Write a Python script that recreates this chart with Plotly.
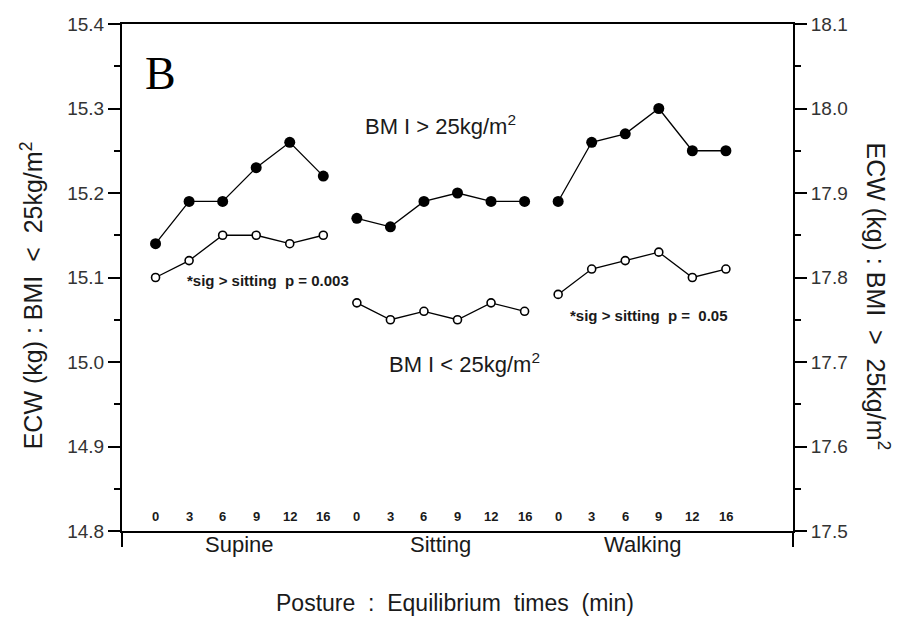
import plotly.graph_objects as go

# ---- data ----
postures = ["Supine", "Sitting", "Walking"]
times = ["0", "3", "6", "9", "12", "16"]

over25_supine = [17.84, 17.89, 17.89, 17.93, 17.96, 17.92]
over25_sitting = [17.87, 17.86, 17.89, 17.90, 17.89, 17.89]
over25_walking = [17.89, 17.96, 17.97, 18.00, 17.95, 17.95]

under25_supine = [15.10, 15.12, 15.15, 15.15, 15.14, 15.15]
under25_sitting = [15.07, 15.05, 15.06, 15.05, 15.07, 15.06]
under25_walking = [15.08, 15.11, 15.12, 15.13, 15.10, 15.11]

over25 = [over25_supine, over25_sitting, over25_walking]
under25 = [under25_supine, under25_sitting, under25_walking]

FONT = "Liberation Sans, Arial, sans-serif"
INK = "#1a1a1a"
SP = "&nbsp;"

# x positions: each posture group of 6 times, consecutive slots
def group_x(g):
    return [g * len(times) + i + 1 for i in range(len(times))]

def joined(series):
    xs, ys = [], []
    for g, vals in enumerate(series):
        if g:
            xs.append(None)
            ys.append(None)
        xs += group_x(g)
        ys += vals
    return xs, ys

fig = go.Figure()

xo, yo = joined(over25)
fig.add_trace(go.Scatter(
    x=xo, y=yo, yaxis="y2", mode="lines+markers", connectgaps=False,
    name="BMI > 25kg/m²",
    line=dict(color="black", width=1.3),
    marker=dict(symbol="circle", size=11, color="black"),
))

xu, yu = joined(under25)
fig.add_trace(go.Scatter(
    x=xu, y=yu, yaxis="y", mode="lines+markers", connectgaps=False,
    name="BMI < 25kg/m²",
    line=dict(color="black", width=1.3),
    marker=dict(symbol="circle", size=8, color="white",
                line=dict(color="black", width=1.6)),
))

n_total = len(postures) * len(times)
x_range = [0, n_total + 2]

annotations = []
# time labels inside the plot, above the x axis
for g in range(len(postures)):
    for xv, t in zip(group_x(g), times):
        annotations.append(dict(
            x=xv, y=0.028, xref="x", yref="paper", text=t, showarrow=False,
            font=dict(family=FONT, size=13, color=INK, weight="bold"),
            xanchor="center", yanchor="middle"))
    xs = group_x(g)
    annotations.append(dict(
        x=sum(xs) / len(xs), y=-0.026, xref="x", yref="paper", text=postures[g],
        showarrow=False, font=dict(family=FONT, size=22, color=INK),
        xanchor="center", yanchor="middle"))

annotations += [
    dict(x=0.058, y=0.903, xref="paper", yref="paper", text="B", showarrow=False,
         font=dict(family="Liberation Serif, Times New Roman, serif", size=46, color="black"),
         xanchor="center", yanchor="middle"),
    dict(x=0.475, y=0.80, xref="paper", yref="paper",
         text="BM I > 25kg/m<sup>2</sup>", showarrow=False,
         font=dict(family=FONT, size=22, color=INK), xanchor="center", yanchor="middle"),
    dict(x=0.511, y=0.331, xref="paper", yref="paper",
         text="BM I < 25kg/m<sup>2</sup>", showarrow=False,
         font=dict(family=FONT, size=22, color=INK), xanchor="center", yanchor="middle"),
    dict(x=0.094, y=0.495, xref="paper", yref="paper",
         text=f"*sig{SP}>{SP}sitting{SP}{SP}p{SP}={SP}0.003", showarrow=False,
         font=dict(family=FONT, size=15, color=INK, weight="bold"),
         xanchor="left", yanchor="middle"),
    dict(x=0.665, y=0.426, xref="paper", yref="paper",
         text=f"*sig{SP}>{SP}sitting{SP}{SP}p{SP}={SP}{SP}0.05", showarrow=False,
         font=dict(family=FONT, size=15, color=INK, weight="bold"),
         xanchor="left", yanchor="middle"),
    dict(x=-0.134, y=0.465, xref="paper", yref="paper",
         text=f"ECW{SP}(kg){SP}:{SP}BMI{SP}{SP}<{SP}{SP}25kg/m<sup>2</sup>", showarrow=False,
         textangle=-90,
         font=dict(family=FONT, size=25, color=INK), xanchor="center", yanchor="middle"),
    dict(x=1.127, y=0.462, xref="paper", yref="paper",
         text=f"ECW{SP}(kg){SP}:{SP}BMI{SP}{SP}>{SP}{SP}25kg/m<sup>2</sup>", showarrow=False,
         textangle=90,
         font=dict(family=FONT, size=25, color=INK), xanchor="center", yanchor="middle"),
    dict(x=0.496, y=-0.142, xref="paper", yref="paper",
         text=f"Posture{SP} :{SP} Equilibrium{SP} times{SP} (min)", showarrow=False,
         font=dict(family=FONT, size=23, color=INK), xanchor="center", yanchor="middle"),
]

# page body has an 8px margin; size the figure so the plot lands where the reference has it
fig.update_layout(
    width=903, height=611,
    margin=dict(l=114, r=118, t=16, b=88, autoexpand=False),
    paper_bgcolor="white", plot_bgcolor="white",
    showlegend=False,
    font=dict(family=FONT, color=INK),
    xaxis=dict(
        range=x_range, showgrid=False, zeroline=False, automargin=False,
        showline=True, linecolor="black", linewidth=2, mirror=True,
        tickvals=x_range, showticklabels=False, ticks="outside", ticklen=14,
        tickwidth=2, tickcolor="black",
    ),
    yaxis=dict(
        range=[14.8, 15.4], dtick=0.1, tick0=14.8, tickformat=".1f",
        showgrid=False, zeroline=False, automargin=False,
        showline=True, linecolor="black", linewidth=2,
        ticks="outside", ticklen=12, tickwidth=2, tickcolor="black",
        minor=dict(dtick=0.05, ticks="outside", ticklen=6, tickwidth=2, tickcolor="black"),
        tickfont=dict(family=FONT, size=19, color="#333"),
    ),
    yaxis2=dict(
        range=[17.5, 18.1], dtick=0.1, tick0=17.5, tickformat=".1f",
        overlaying="y", side="right", automargin=False,
        showgrid=False, zeroline=False,
        showline=True, linecolor="black", linewidth=2,
        ticks="outside", ticklen=12, tickwidth=2, tickcolor="black",
        minor=dict(dtick=0.05, ticks="outside", ticklen=6, tickwidth=2, tickcolor="black"),
        tickfont=dict(family=FONT, size=19, color="#333"),
    ),
    annotations=annotations,
)

fig.write_html("out.html")
